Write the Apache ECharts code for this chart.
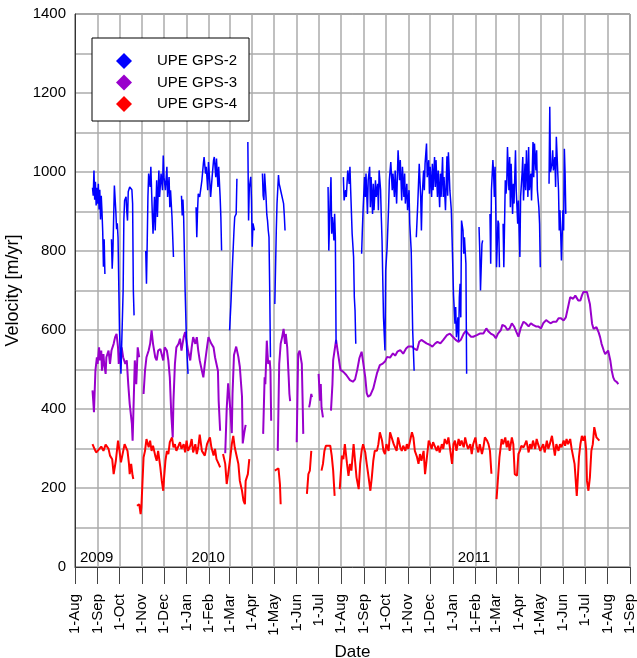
<!DOCTYPE html>
<html><head><meta charset="utf-8">
<script src="https://cdn.jsdelivr.net/npm/echarts@6/dist/echarts.min.js"></script>
<style>html,body{margin:0;padding:0;background:#fff}#c{width:637px;height:658px}</style>
</head><body><div id="c"></div>
<script>
// x values are days since 1-Aug-2009
const monthDays = [0,31,61,92,122,153,184,212,243,273,304,334,365,396,426,457,487,518,549,577,608,638,669,699,730,761];
const monthLabels = ['1-Aug','1-Sep','1-Oct','1-Nov','1-Dec','1-Jan','1-Feb','1-Mar','1-Apr','1-May','1-Jun','1-Jul','1-Aug','1-Sep','1-Oct','1-Nov','1-Dec','1-Jan','1-Feb','1-Mar','1-Apr','1-May','1-Jun','1-Jul','1-Aug','1-Sep'];
const yearDays = [0,153,518];
const yearLabels = ['2009','2010','2011'];
const seriesNames = ['UPE GPS-2','UPE GPS-3','UPE GPS-4'];

const gps2 = [[24,960],[25,940],[26,1004],[27,930],[28,975],[29,915],[30,960],[31,920],[32,970],[33,905],[34,955],[35,880],[36,940],[37,900],[38,850],[39,760],[40,830],[41,742],[45,null],
[50,830],[51,755],[52,800],[54,966],[56,900],[57,855],[58,870],[59,835],[61,600],[63,489],[64,560],[66,700],[67,880],[68,928],[70,937],[71,900],[72,877],[73,950],[75,962],[77,962],[78,955],[79,920],[80,700],[81,637],[90,null],
[97,800],[98,717],[99,820],[100,937],[101,996],[103,962],[104,1013],[106,894],[107,844],[109,937],[110,852],[112,979],[113,886],[115,1004],[116,937],[118,996],[120,954],[121,1042],[122,987],[124,954],[126,1013],[127,937],[129,987],[130,911],[131,954],[133,886],[135,785],[140,null],
[146,940],[147,890],[148,930],[149,885],[151,700],[153,560],[155,489],[160,null],
[166,911],[167,835],[168,900],[169,945],[171,937],[174,979],[176,1021],[177,1038],[179,996],[180,1013],[182,954],[183,1025],[185,970],[186,937],[188,987],[190,1030],[191,1038],[193,987],[194,1034],[196,962],[197,1013],[199,937],[200,886],[201,801],[205,null],
[212,599],[214,675],[216,768],[218,852],[219,886],[221,894],[222,983],[230,null],
[237,1076],[238,877],[239,960],[241,988],[242,929],[243,811],[244,870],[246,852],[250,null],
[257,996],[258,940],[259,929],[260,996],[261,992],[262,934],[263,892],[264,877],[265,852],[266,835],[267,700],[268,531],[270,null],
[274,666],[276,852],[277,920],[279,992],[280,970],[281,962],[283,945],[285,950],[286,920],[287,890],[288,852],[300,null],
[347,962],[348,801],[350,937],[351,987],[352,844],[353,886],[355,827],[356,894],[357,835],[358,565],[362,null],
[368,987],[369,928],[371,954],[372,937],[374,1004],[376,970],[377,1013],[378,954],[380,844],[382,785],[383,683],[384,649],[385,565],[389,null],
[393,793],[394,852],[395,903],[397,987],[398,937],[399,996],[401,894],[402,979],[404,1013],[405,911],[406,987],[408,894],[409,970],[410,903],[412,979],[413,937],[415,970],[416,903],[417,1004],[419,954],[420,886],[421,827],[423,632],[425,548],[426,751],[428,810],[430,911],[431,979],[433,1025],[435,954],[436,996],[438,937],[439,1004],[441,920],[442,987],[443,1055],[445,979],[446,1030],[448,928],[449,1013],[451,937],[452,996],[453,920],[455,970],[456,903],[458,954],[459,869],[461,801],[463,600],[465,497],[467,null],
[468,835],[470,920],[471,970],[472,1021],[474,937],[475,852],[476,937],[478,1004],[479,954],[480,1021],[482,1072],[483,987],[485,1030],[486,945],[487,1013],[489,937],[490,1021],[491,954],[493,1038],[494,962],[495,1030],[497,937],[498,1004],[500,911],[501,996],[502,937],[504,1038],[505,937],[506,987],[508,903],[510,1040],[511,940],[512,1050],[513,1004],[514,954],[516,903],[517,835],[519,690],[521,616],[522,658],[523,582],[525,632],[526,573],[527,683],[528,717],[529,632],[530,877],[532,852],[533,793],[534,835],[535,801],[536,768],[537,489],[545,null],
[554,861],[555,801],[556,700],[558,818],[559,827],[564,null],
[569,894],[570,768],[571,954],[573,1030],[574,996],[575,937],[576,1013],[577,903],[578,759],[580,877],[581,869],[582,759],[585,null],
[587,869],[588,759],[590,979],[591,945],[592,970],[593,1063],[595,954],[596,1038],[597,911],[598,1021],[600,894],[601,970],[602,920],[604,1055],[605,954],[607,869],[608,928],[609,852],[610,785],[611,937],[613,996],[614,1038],[615,928],[617,1021],[618,954],[619,1055],[621,937],[622,1063],[623,954],[625,996],[626,928],[628,1076],[629,987],[630,1072],[632,1004],[633,1055],[634,954],[636,911],[637,869],[638,759],[644,null],
[650,970],[651,1165],[652,1000],[654,1021],[655,1055],[656,1004],[658,1038],[659,962],[660,1089],[662,996],[663,954],[664,852],[665,903],[666,843],[667,776],[669,903],[670,852],[671,1059],[672,996],[673,894]];

const gps3 = [[24,447],[25,421],[26,392],[28,497],[30,531],[31,514],[33,556],[34,523],[36,548],[37,497],[39,539],[40,514],[42,489],[43,531],[46,548],[48,514],[50,548],[53,565],[55,582],[57,590],[59,556],[60,514],[62,539],[64,556],[66,531],[69,514],[71,523],[73,463],[75,413],[78,362],[79,320],[82,523],[84,463],[86,556],[88,531],[90,null],
[94,438],[96,497],[98,531],[101,548],[103,565],[105,599],[107,565],[110,531],[112,523],[114,548],[117,552],[119,548],[121,523],[123,556],[126,548],[128,523],[130,480],[132,387],[134,328],[135,420],[137,514],[139,556],[142,565],[144,578],[146,548],[149,582],[151,595],[153,590],[155,548],[158,523],[160,556],[162,582],[165,565],[167,582],[169,548],[171,523],[174,497],[176,480],[178,514],[181,556],[183,582],[185,586],[187,565],[190,556],[192,531],[194,514],[196,497],[197,420],[199,345],[202,null],
[206,288],[208,400],[210,465],[213,397],[215,339],[216,439],[218,537],[221,558],[224,532],[226,507],[229,431],[230,313],[232,339],[234,360],[245,null],
[258,337],[260,480],[261,463],[263,573],[264,540],[265,514],[267,523],[268,497],[269,370],[273,null],
[278,294],[280,514],[282,565],[284,582],[286,603],[288,565],[289,590],[291,556],[293,480],[294,438],[295,420],[300,null],
[304,316],[306,539],[308,548],[311,514],[312,430],[313,337],[317,null],
[321,404],[322,413],[324,438],[325,430],[329,null],
[334,489],[336,421],[337,463],[338,404],[340,379],[345,null],
[351,396],[352,397],[353,463],[354,524],[356,520],[358,575],[360,549],[362,545],[364,499],[368,494],[372,486],[377,473],[381,469],[384,475],[387,499],[390,529],[393,545],[395,520],[398,480],[400,440],[402,431],[405,435],[409,452],[414,490],[418,511],[422,515],[425,520],[428,532],[432,530],[436,541],[439,535],[442,545],[446,549],[450,540],[454,553],[457,558],[462,558],[465,553],[469,549],[472,570],[475,575],[479,570],[482,566],[487,562],[490,558],[494,566],[497,570],[501,566],[505,575],[510,587],[514,591],[518,583],[522,575],[526,570],[529,575],[533,591],[536,598],[539,591],[543,583],[546,583],[551,587],[555,591],[560,591],[564,604],[567,596],[570,591],[574,587],[577,579],[580,591],[584,600],[586,613],[590,609],[593,600],[596,604],[599,617],[602,609],[605,596],[608,583],[611,604],[615,621],[618,617],[622,609],[625,617],[628,613],[632,609],[635,609],[639,604],[642,617],[646,625],[649,621],[652,617],[656,621],[660,621],[663,630],[666,630],[670,624],[673,632],[677,666],[679,683],[681,687],[683,679],[686,687],[688,685],[690,675],[693,675],[695,687],[697,696],[699,698],[702,696],[704,692],[706,666],[709,616],[711,603],[713,599],[715,607],[718,594],[720,582],[722,565],[725,548],[727,539],[729,539],[731,548],[734,523],[736,497],[738,480],[740,472],[743,468],[745,463]];

const gps4 = [[24,311],[27,298],[29,290],[32,296],[36,305],[39,294],[42,310],[46,299],[48,282],[51,273],[53,235],[56,269],[59,320],[61,294],[63,265],[65,261],[68,311],[69,316],[72,294],[74,261],[75,235],[77,261],[79,231],[80,223],[82,null],
[85,155],[88,159],[90,134],[91,151],[94,277],[96,294],[98,324],[101,303],[103,320],[105,294],[107,307],[110,282],[112,269],[114,294],[117,252],[119,218],[121,193],[122,223],[124,269],[126,294],[128,286],[130,316],[133,328],[135,303],[137,311],[139,294],[142,307],[144,316],[146,299],[149,311],[151,290],[153,320],[155,294],[158,307],[160,324],[162,290],[165,311],[167,286],[169,303],[171,335],[174,294],[176,299],[178,282],[181,311],[183,320],[185,328],[187,303],[190,282],[192,299],[194,273],[197,261],[199,252],[201,null],
[203,286],[206,261],[208,210],[210,235],[213,278],[215,311],[217,332],[219,303],[222,278],[224,261],[226,218],[229,193],[231,168],[233,159],[234,218],[237,235],[239,273],[250,null],
[274,244],[276,240],[279,250],[281,210],[282,159],[300,null],
[318,185],[320,235],[322,244],[324,294],[330,null],
[338,244],[340,261],[342,294],[344,307],[346,311],[350,307],[352,282],[354,244],[356,180],[360,null],
[363,197],[366,282],[368,273],[370,311],[373,261],[375,231],[377,261],[379,244],[382,311],[384,269],[386,227],[389,197],[391,261],[393,294],[395,311],[398,290],[400,261],[402,235],[405,193],[407,227],[409,269],[411,294],[414,294],[416,311],[418,341],[421,320],[423,294],[425,286],[427,311],[430,294],[432,341],[434,345],[437,311],[439,316],[441,294],[443,328],[446,303],[448,294],[450,307],[453,294],[455,311],[457,299],[459,316],[462,341],[464,328],[466,294],[469,278],[471,261],[473,286],[475,269],[478,294],[480,235],[482,269],[485,320],[487,311],[489,299],[491,316],[494,303],[496,294],[498,307],[500,290],[503,311],[505,299],[507,324],[510,311],[512,328],[514,303],[517,261],[519,311],[521,320],[523,294],[526,324],[528,307],[530,320],[533,303],[535,328],[537,311],[539,299],[542,311],[544,286],[546,311],[549,328],[551,303],[553,290],[555,311],[558,286],[560,303],[562,328],[565,320],[567,311],[569,294],[571,236],[575,null],
[578,172],[582,278],[585,324],[587,311],[590,328],[592,303],[594,320],[596,294],[599,328],[601,311],[603,235],[606,231],[608,286],[610,294],[612,307],[615,303],[617,311],[619,320],[622,290],[624,311],[626,299],[628,320],[631,299],[633,324],[635,311],[638,294],[640,303],[642,311],[644,290],[647,320],[649,299],[651,311],[654,332],[656,307],[658,282],[660,311],[663,294],[665,311],[667,303],[670,320],[672,307],[674,324],[676,311],[679,324],[681,299],[683,294],[685,261],[686,235],[688,180],[689,210],[691,278],[693,311],[695,332],[697,320],[699,332],[701,294],[702,218],[704,193],[706,227],[708,294],[710,311],[712,354],[713,358],[715,328],[717,332],[719,320]];

const FONT = "'Liberation Sans', Arial, sans-serif";
const chart = echarts.init(document.getElementById('c'), null, {renderer: 'canvas'});
chart.setOption({
  animation: false,
  backgroundColor: '#ffffff',
  textStyle: {fontFamily: FONT},
  grid: {left: 75, right: 7, top: 14, bottom: 91, show: true, borderColor: '#333', borderWidth: 1, containLabel: false, outerBoundsMode: 'none'},
  legend: {
    orient: 'vertical', left: 92, top: 38, data: seriesNames, icon: 'diamond',
    itemWidth: 16, itemHeight: 16, itemGap: 5.5, padding: [15, 12, 9, 24],
    borderColor: '#000', borderWidth: 1, backgroundColor: '#fff', borderRadius: 0,
    textStyle: {fontSize: 15, color: '#000', fontFamily: FONT, padding: [0, 0, 0, 20]}
  },
  xAxis: {
    type: 'value', min: 0, max: 761,
    axisLine: {show: true, onZero: false, lineStyle: {color: '#333', width: 1}},
    axisTick: {show: true, customValues: monthDays, length: 17, lineStyle: {color: '#444', width: 1}},
    axisLabel: {customValues: monthDays, rotate: 90, margin: 27, fontSize: 15, color: '#000', fontFamily: FONT,
      formatter: function (v) { const i = monthDays.indexOf(v); return i >= 0 ? monthLabels[i] : ''; }},
    splitLine: {show: true, lineStyle: {color: '#ababab', width: 1.5}},
    name: 'Date', nameLocation: 'middle', nameGap: 71,
    nameTextStyle: {fontSize: 17, color: '#000', fontFamily: FONT}
  },
  yAxis: {
    type: 'value', min: 0, max: 1400, interval: 100,
    axisLine: {show: true, onZero: false, lineStyle: {color: '#333', width: 1}},
    axisTick: {show: false},
    axisLabel: {margin: 9, fontSize: 15, color: '#000', fontFamily: FONT,
      formatter: function (v) { return v % 200 === 0 ? String(v) : ''; }},
    splitLine: {show: true, lineStyle: {color: '#ababab', width: 1.5}},
    name: 'Velocity [m/yr]', nameLocation: 'middle', nameGap: 42,
    nameTextStyle: {fontSize: 18, color: '#000', fontFamily: FONT}
  },
  series: [
    {name: seriesNames[2], type: 'line', data: gps4, showSymbol: false, connectNulls: false,
      itemStyle: {color: '#ff0000'}, lineStyle: {color: '#ff0000', width: 2}, z: 2},
    {name: seriesNames[1], type: 'line', data: gps3, showSymbol: false, connectNulls: false,
      itemStyle: {color: '#9900cc'}, lineStyle: {color: '#9900cc', width: 2}, z: 3},
    {name: seriesNames[0], type: 'line', data: gps2, showSymbol: false, connectNulls: false,
      itemStyle: {color: '#0000ff'}, lineStyle: {color: '#0000ff', width: 1.5}, z: 4},
    {name: 'years', type: 'scatter', silent: true, symbolSize: 0,
      itemStyle: {opacity: 1, color: '#000'},
      data: yearDays.map(function (d) { return [d, 22]; }),
      label: {show: true, position: 'right', distance: 5, fontSize: 15, color: '#000', opacity: 1, fontFamily: FONT,
        formatter: function (p) { return yearLabels[p.dataIndex]; }}, z: 5}
  ]
});
</script>
</body></html>
